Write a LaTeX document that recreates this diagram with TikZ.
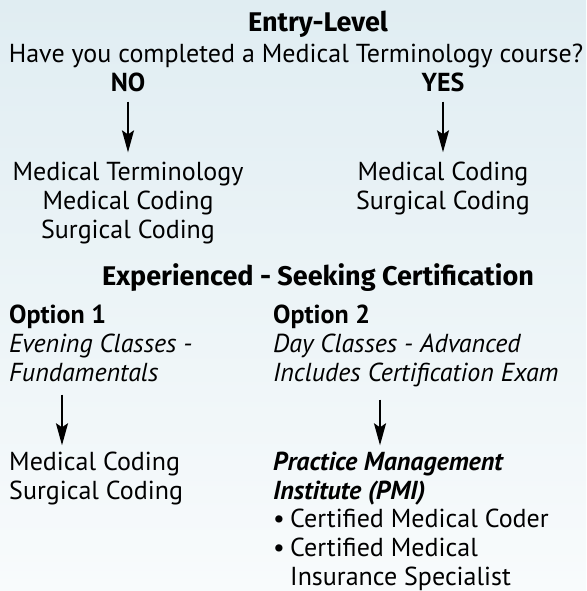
\documentclass[tikz,border=0pt]{standalone}
\usepackage{fontspec}
\setmainfont{PT Sans}
\newfontfamily\headfont{Fira Sans}
\usetikzlibrary{arrows.meta}
\definecolor{bgtop}{HTML}{E0EDF2}
\definecolor{bgbot}{HTML}{F8FBFC}
\tikzset{
	body/.style={inner sep=0pt, font=\fontsize{26}{29}\selectfont},
	label/.style={body, font=\fontsize{26}{29}\selectfont\bfseries},
	head/.style={body, font=\fontsize{27}{29}\selectfont\headfont\bfseries},
	flow/.style={line width=2pt, -{Stealth[length=22pt, width=12pt, inset=4pt]}, shorten <=9pt, shorten >=9pt}
}
\begin{document}
\begin{tikzpicture}[x=1pt, y=-1pt]
		%%%%% BACKGROUND %%%%%
		\shade[top color=bgtop, bottom color=bgbot] (0, 0) rectangle (586, 591);
		\useasboundingbox (0, 0) rectangle (586, 591);
		
		%%%%% ENTRY-LEVEL %%%%%
		\node[head, anchor=base] (entry) at (318, 32) {Entry-Level};
		\node[body, anchor=base] (question) at (296, 63) {Have you completed a Medical Terminology course?};
		\node[label, anchor=base] (no) at (128, 92) {NO};
		\node[label, anchor=base] (yes) at (443, 92) {YES};
		
		\node[body, anchor=base, align=center] (noList) at (128, 238) {Medical Terminology\\Medical Coding\\Surgical Coding};
		\node[body, anchor=base, align=center] (yesList) at (443, 209) {Medical Coding\\Surgical Coding};
		
		\draw[flow] (no.south) -- (no.south |- noList.north);
		\draw[flow] (yes.south) -- (yes.south |- yesList.north);
		
		%%%%% EXPERIENCED %%%%%
		\node[head, anchor=base] (experienced) at (318, 285) {Experienced - Seeking Certification};
		
		\node[label, anchor=base west] (opt1) at (9, 323) {Option 1};
		\node[body, anchor=base west, align=left, font=\fontsize{26}{29}\selectfont\itshape] (opt1Desc) at (9, 381) {Evening Classes -\\Fundamentals};
		\node[label, anchor=base west] (opt2) at (273, 323) {Option 2};
		\node[body, anchor=base west, align=left, font=\fontsize{26}{29}\selectfont\itshape] (opt2Desc) at (273, 381) {Day Classes - Advanced\\Includes Certification Exam};
		
		\node[body, anchor=base west, align=left] (opt1List) at (9, 499) {Medical Coding\\Surgical Coding};
		\node[body, anchor=base west, align=left, font=\fontsize{26}{29}\selectfont\bfseries\itshape] (pmi) at (273, 499) {Practice Management\\Institute (PMI)};
		\node[body, anchor=base west, align=left] (pmiList) at (273, 585) {\makebox[17pt][l]{\textbullet}Certified Medical Coder\\\makebox[17pt][l]{\textbullet}Certified Medical\\\hspace*{17pt}Insurance Specialist};
		
		\coordinate (col1) at (62, 0);
		\coordinate (col2) at (380, 0);
		\draw[flow, shorten <=13pt, shorten >=6pt] (opt1Desc.south -| col1) -- (opt1List.north -| col1);
		\draw[flow, shorten <=13pt, shorten >=6pt] (opt2Desc.south -| col2) -- (pmi.north -| col2);
\end{tikzpicture}
\end{document}
